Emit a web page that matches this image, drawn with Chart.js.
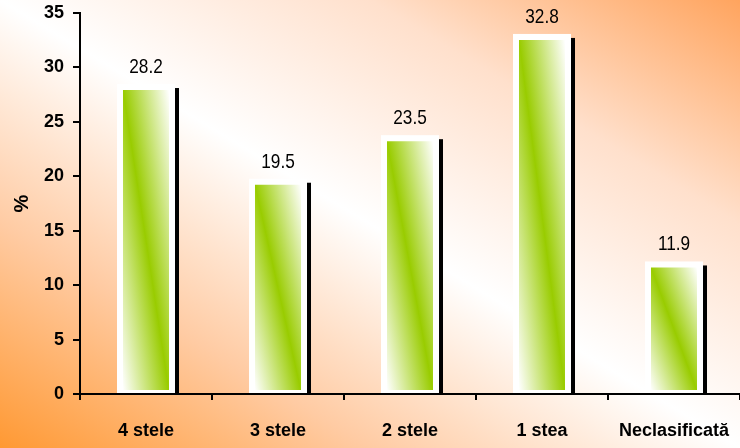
<!DOCTYPE html>
<html>
<head>
<meta charset="utf-8">
<script src="https://cdn.jsdelivr.net/npm/chart.js@4.4.1/dist/chart.umd.min.js"></script>
<style>
  html, body { margin: 0; padding: 0; background: #fff; }
  #wrap { width: 740px; height: 448px; }
</style>
</head>
<body>
<div id="wrap"><canvas id="chart" width="740" height="448"></canvas></div>
<script>
// data
const categories = ['4 stele', '3 stele', '2 stele', '1 stea', 'Neclasificată'];
const percentages = [28.2, 19.5, 23.5, 32.8, 11.9];
const yTicks = [0, 5, 10, 15, 20, 25, 30, 35];

const GREEN = '#99cc00';
const AXIS_FONT = '"Liberation Sans", Arial, sans-serif';

// diagonal white-green-white fill for each bar, taken from the scales
function barFill(context) {
  const chart = context.chart;
  const i = context.dataIndex;
  const xs = chart.scales.x;
  const ys = chart.scales.y;
  if (i === undefined || !xs || !ys) return GREEN;
  const cx = xs.getPixelForValue(i);
  const w = 46;
  const top = ys.getPixelForValue(percentages[i]) + 3;
  const base = ys.getPixelForValue(0) - 3;
  if (![cx, top, base].every(Number.isFinite)) return GREEN;
  const h = Math.max(base - top, 1);
  const cy = (top + base) / 2;
  const n2 = w * w + h * h;
  const k = w * h / n2;
  const g = chart.ctx.createLinearGradient(cx - k * h, cy + k * w, cx + k * h, cy - k * w);
  g.addColorStop(0, '#ffffff');
  g.addColorStop(0.5, GREEN);
  g.addColorStop(1, '#ffffff');
  return g;
}

const backgroundPlugin = {
  id: 'bg',
  beforeDraw(chart) {
    const ctx = chart.ctx;
    const W = chart.width, H = chart.height;
    const cx = W / 2, cy = H / 2;
    const n2 = W * W + H * H;
    const k = W * H / n2;
    const g = ctx.createLinearGradient(cx - k * H, cy + k * W, cx + k * H, cy - k * W);
    g.addColorStop(0, '#ff9933');
    g.addColorStop(0.25, '#ffcba3');
    g.addColorStop(0.5, '#ffffff');
    g.addColorStop(0.75, '#ffe0cc');
    g.addColorStop(1, '#ffa45e');
    ctx.save();
    ctx.fillStyle = g;
    ctx.fillRect(0, 0, W, H);
    ctx.restore();
  }
};

// black drop shadow + outer white frame behind each bar, value labels on top
const framePlugin = {
  id: 'frame',
  beforeDatasetsDraw(chart) {
    const ctx = chart.ctx;
    const meta = chart.getDatasetMeta(0);
    ctx.save();
    meta.data.forEach(bar => {
      const left = bar.x - bar.width / 2 - 3;
      const right = bar.x + bar.width / 2 + 3;
      const top = bar.y - 3;
      ctx.fillStyle = '#000000';
      ctx.fillRect(left + 4, top + 4, right - left, bar.base - top - 4);
      ctx.fillStyle = '#ffffff';
      ctx.fillRect(left, top, right - left, bar.base - top);
    });
    ctx.restore();
  },
  afterDatasetsDraw(chart) {
    const ctx = chart.ctx;
    const meta = chart.getDatasetMeta(0);
    ctx.save();
    ctx.font = '21px ' + AXIS_FONT;
    ctx.fillStyle = '#000000';
    ctx.textAlign = 'center';
    ctx.textBaseline = 'alphabetic';
    meta.data.forEach((bar, i) => {
      // narrow look: squeeze the text horizontally
      ctx.save();
      ctx.translate(bar.x, bar.y - 14);
      ctx.scale(0.82, 1);
      ctx.fillText(percentages[i].toFixed(1), 0, 0);
      ctx.restore();
    });
    ctx.restore();
  }
};

new Chart(document.getElementById('chart'), {
  type: 'bar',
  data: {
    labels: categories,
    datasets: [{
      data: percentages,
      backgroundColor: barFill,
      borderColor: '#ffffff',
      borderWidth: 3,
      borderSkipped: false,
      barPercentage: 0.394,
      categoryPercentage: 1
    }]
  },
  options: {
    responsive: false,
    animation: false,
    devicePixelRatio: 1,
    layout: { padding: { top: 13, right: 0, bottom: 0, left: 0 } },
    plugins: {
      legend: { display: false },
      tooltip: { enabled: false }
    },
    scales: {
      x: {
        z: 1,
        grid: { display: true, drawOnChartArea: false, color: '#000', lineWidth: 2, tickLength: 6, offset: true },
        border: { color: '#000', width: 2 },
        ticks: {
          color: '#000',
          padding: 20,
          font: { family: AXIS_FONT, size: 18, weight: 'bold' }
        },
        afterFit(scale) {
          scale.height = 54;
          scale.paddingLeft = 0;
          scale.paddingRight = 0;
        }
      },
      y: {
        min: 0,
        max: 35,
        afterBuildTicks(scale) { scale.ticks = yTicks.map(v => ({ value: v })); },
        grid: { display: true, drawOnChartArea: false, color: '#000', lineWidth: 2, tickLength: 7 },
        border: { color: '#000', width: 2 },
        ticks: {
          color: '#000',
          padding: 9,
          font: { family: AXIS_FONT, size: 18, weight: 'bold' }
        },
        title: {
          display: true,
          text: '%',
          color: '#000',
          padding: { top: 10, bottom: 0 },
          font: { family: AXIS_FONT, size: 20, weight: 'bold' }
        },
        afterFit(scale) {
          scale.width = 80;
          scale.paddingTop = 0;
          scale.paddingBottom = 0;
        }
      }
    }
  },
  plugins: [backgroundPlugin, framePlugin]
});
</script>
</body>
</html>
